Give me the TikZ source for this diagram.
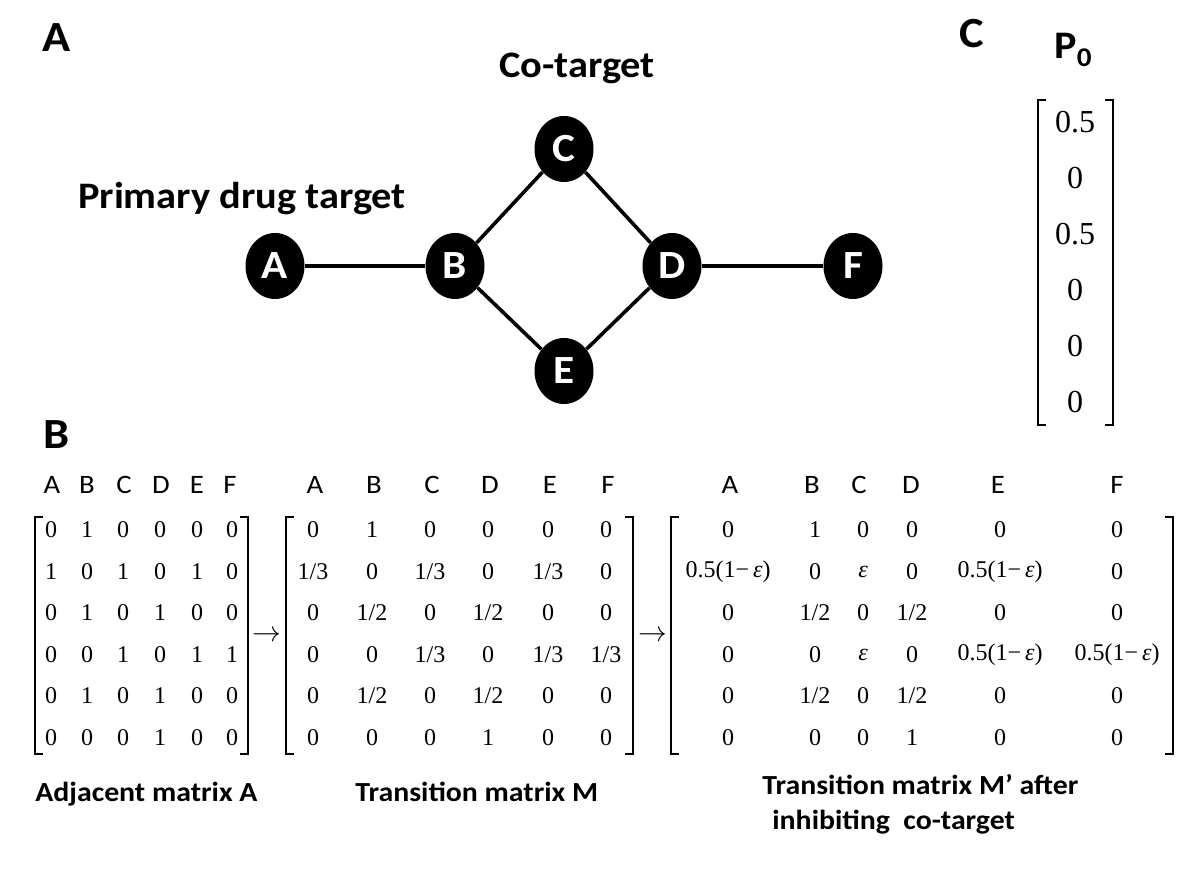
\documentclass[tikz,border=0pt]{standalone}
\usepackage{fontspec}
\setmainfont{Liberation Serif}
\newfontfamily\calibri[FakeStretch=1.08]{Carlito}
\usetikzlibrary{shapes.geometric}
\newcommand{\eps}{\textit{ε}}
\newcommand{\hlf}{0.5(1−\,\eps)}
\begin{document}
\begin{tikzpicture}[x=0.5pt,y=-0.5pt,
    vertex/.style={ellipse,fill=black,text=white,minimum width=29.5pt,minimum height=33pt,inner sep=0pt,
      font=\calibri\bfseries\fontsize{20}{22}\selectfont},
    panel/.style={font=\calibri\bfseries\fontsize{21.5}{24}\selectfont},
    caption/.style={font=\calibri\bfseries\fontsize{13.8}{17.5}\selectfont,align=left,inner sep=0pt},
    colhead/.style={font=\calibri\fontsize{13.3}{15}\selectfont},
    entry/.style={font=\fontsize{12}{14}\selectfont,inner sep=0pt},
    bracket/.style={line width=0.6pt}]
  \useasboundingbox (0,0) rectangle (1200,870);

  % panel letters
  \node[panel] (pa) at (57,38) {A};
  \node[panel] (pb) at (57,435) {B};
  \node[panel] (pc) at (972,34) {C};

  % the network
  \begin{scope}[every node/.style={vertex}]
    \node (A) at (275,266) {A};
    \node (B) at (455,266) {B};
    \node (C) at (564,149) {C};
    \node (D) at (672,266) {D};
    \node (E) at (564,371) {E};
    \node (F) at (853,266) {F};
  \end{scope}

  \begin{scope}[line width=1.8pt]
    \path (A) edge (B);
    \path (B) edge (C);
    \path (C) edge (D);
    \path (B) edge (E);
    \path (E) edge (D);
    \path (D) edge (F);
  \end{scope}

  \node[font=\calibri\bfseries\fontsize{18.7}{21}\selectfont] (cot) at (577,68) {Co-target};
  \node[font=\calibri\bfseries\fontsize{18.7}{21}\selectfont] (pdt) at (242,199) {Primary drug target};

  % initial vector P0
  \node[font=\calibri\bfseries\fontsize{19.5}{22}\selectfont] (p0) at (1073,50)
    {P\raisebox{-0.45ex}{\fontsize{13.5}{14}\selectfont 0}};
  \foreach \v [count=\r] in {0.5,0,0.5,0,0,0}
    \node[entry,font=\fontsize{16}{19}\selectfont] (v\r) at (1075,{122+56*(\r-1)}) {\v};
  \draw[bracket] (1046,100) -| (1038,425) -- (1046,425);
  \draw[bracket] (1105,100) -| (1113,425) -- (1105,425);

  % column headers
  \foreach \h [count=\c] in {A,B,C,D,E,F} {
    \pgfmathsetmacro{\xa}{{52,87,124,161,197,230}[\c-1]}
    \pgfmathsetmacro{\xb}{{315,374,432,490,550,608}[\c-1]}
    \pgfmathsetmacro{\xc}{{730,812,859,911,998,1117}[\c-1]}
    \node[colhead] (ha\c) at (\xa,485) {\h};
    \node[colhead] (hb\c) at (\xb,485) {\h};
    \node[colhead] (hc\c) at (\xc,485) {\h};
  }

  % adjacent matrix
  \foreach \row [count=\r] in {{0,1,0,0,0,0},{1,0,1,0,1,0},{0,1,0,1,0,0},
                               {0,0,1,0,1,1},{0,1,0,1,0,0},{0,0,0,1,0,0}}
    \foreach \v [count=\c] in \row {
      \pgfmathsetmacro{\xx}{{51,87,123,160,197,232}[\c-1]}
      \pgfmathsetmacro{\yy}{530+41.5*(\r-1)}
      \node[entry] (a\r-\c) at (\xx,\yy) {\v};
    }
  \draw[bracket] (43,517) -| (35,754) -- (43,754);
  \draw[bracket] (240,517) -| (248,754) -- (240,754);
  \node[entry,font=\fontsize{14}{16}\selectfont] (ar1) at (267,636) {$\rightarrow$};

  % transition matrix
  \foreach \row [count=\r] in {{0,1,0,0,0,0},{1/3,0,1/3,0,1/3,0},{0,1/2,0,1/2,0,0},
                               {0,0,1/3,0,1/3,1/3},{0,1/2,0,1/2,0,0},{0,0,0,1,0,0}}
    \foreach \v [count=\c] in \row {
      \pgfmathsetmacro{\xx}{{313,372,430,488,548,606}[\c-1]}
      \pgfmathsetmacro{\yy}{530+41.5*(\r-1)}
      \node[entry] (b\r-\c) at (\xx,\yy) {\v};
    }
  \draw[bracket] (294,517) -| (286,754) -- (294,754);
  \draw[bracket] (625,517) -| (633,754) -- (625,754);
  \node[entry,font=\fontsize{14}{16}\selectfont] (ar2) at (653,636) {$\rightarrow$};

  % transition matrix after inhibition
  \foreach \row [count=\r] in {{0,1,0,0,0,0},{\hlf,0,\eps,0,\hlf,0},{0,1/2,0,1/2,0,0},
                               {0,0,\eps,0,\hlf,\hlf},{0,1/2,0,1/2,0,0},{0,0,0,1,0,0}}
    \foreach \v [count=\c] in \row {
      \pgfmathsetmacro{\xx}{{728,815,863,912,1000,1117}[\c-1]}
      \pgfmathsetmacro{\yy}{530+41.5*(\r-1)}
      \node[entry] (c\r-\c) at (\xx,\yy) {\v};
    }
  \draw[bracket] (679,517) -| (671,754) -- (679,754);
  \draw[bracket] (1165,517) -| (1173,754) -- (1165,754);

  % captions
  \node[caption,anchor=base west] (ca) at (35,802) {Adjacent matrix A};
  \node[caption,anchor=base west] (cb) at (355,802) {Transition matrix M};
  \node[caption,anchor=west] (cc) at (762,804) {Transition matrix M’ after\\ \hspace{5pt}inhibiting\ \ co-target};

\end{tikzpicture}
\end{document}
